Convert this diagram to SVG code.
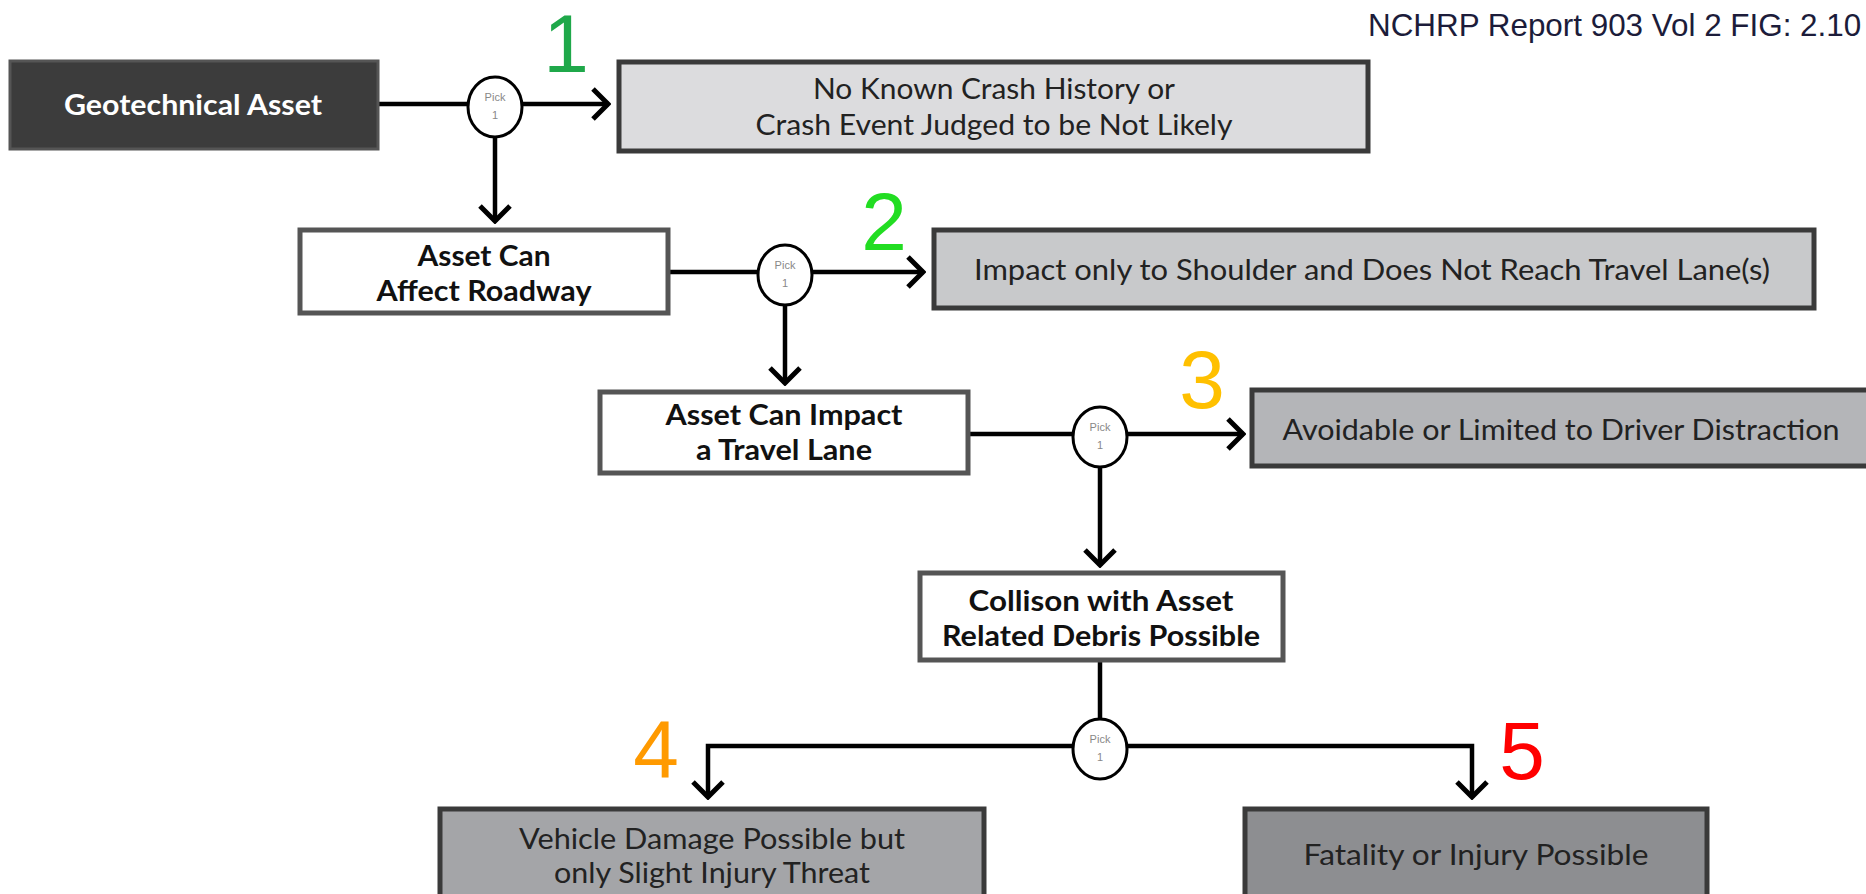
<svg xmlns="http://www.w3.org/2000/svg" width="1866" height="894" viewBox="0 0 1866 894">
<style>
.bg{fill:#fff}
.dark{fill:#3c3c3c;stroke:#555;stroke-width:3}
.white{fill:#fff;stroke:#555;stroke-width:5}
.out{stroke:#3a3a3a;stroke-width:5}
.t{font-family:Lato,"Liberation Sans",sans-serif;font-size:29px;fill:#222;text-anchor:middle}
.b{font-family:Lato,"Liberation Sans",sans-serif;font-size:29px;font-weight:bold;fill:#111;text-anchor:middle}
.num{font-family:"Liberation Sans",Arial,sans-serif;font-size:82px;text-anchor:middle}
.pick{fill:#fff;stroke:#000;stroke-width:3}
.pt{font-family:"Liberation Sans Narrow","Liberation Sans",sans-serif;font-size:11px;fill:#888;text-anchor:middle}
.c{fill:none;stroke:#000;stroke-width:4.5}
</style>
<defs>
<marker id="arr" viewBox="0 0 20 34" refX="18" refY="17" markerWidth="20" markerHeight="34" markerUnits="userSpaceOnUse" orient="auto">
<path d="M2,2 L17,17 L2,32" fill="none" stroke="#000" stroke-width="5"/>
</marker>
</defs>
<rect class="bg" x="0" y="0" width="1866" height="894"/>
<text x="1368" y="36" font-family="'Liberation Sans',Arial,sans-serif" font-size="31.4" fill="#1c1c3a">NCHRP Report 903 Vol 2 FIG: 2.10</text>

<g id="connectors">
<path class="c" d="M378,104 H468"/>
<path class="c" d="M522,104 H609" marker-end="url(#arr)"/>
<path class="c" d="M495,136 V222" marker-end="url(#arr)"/>
<path class="c" d="M668,272 H758"/>
<path class="c" d="M812,272 H924" marker-end="url(#arr)"/>
<path class="c" d="M785,304 V384" marker-end="url(#arr)"/>
<path class="c" d="M968,434 H1073"/>
<path class="c" d="M1127,434 H1244" marker-end="url(#arr)"/>
<path class="c" d="M1100,468 V566" marker-end="url(#arr)"/>
<path class="c" d="M1100,660 V719"/>
<path class="c" d="M1073,746 H708 V798" marker-end="url(#arr)"/>
<path class="c" d="M1127,746 H1472 V798" marker-end="url(#arr)"/>
</g>

<g id="geotechnical-asset">
<rect class="dark" x="10" y="61" width="368" height="88"/>
<text class="b" x="193" y="115" textLength="258" lengthAdjust="spacingAndGlyphs" style="fill:#fff">Geotechnical Asset</text>
</g>

<g id="pick-1">
<ellipse class="pick" cx="495" cy="107" rx="27" ry="30"/>
<text class="pt" x="495" y="101">Pick</text>
<text class="pt" x="495" y="119">1</text>
</g>

<g id="outcome-1">
<rect class="out" x="619" y="62" width="749" height="89" fill="#dcdcde"/>
<text class="t" x="994" y="99" textLength="362" lengthAdjust="spacingAndGlyphs">No Known Crash History or</text>
<text class="t" x="994" y="135" textLength="477" lengthAdjust="spacingAndGlyphs">Crash Event Judged to be Not Likely</text>
</g>
<text id="label-1" class="num" x="566" y="72" fill="#1fa84a">1</text>

<g id="affect-roadway">
<rect class="white" x="300" y="230" width="368" height="83"/>
<text class="b" x="484" y="266" textLength="133" lengthAdjust="spacingAndGlyphs">Asset Can</text>
<text class="b" x="484" y="301" textLength="215" lengthAdjust="spacingAndGlyphs">Affect Roadway</text>
</g>

<g id="pick-2">
<ellipse class="pick" cx="785" cy="275" rx="27" ry="30"/>
<text class="pt" x="785" y="269">Pick</text>
<text class="pt" x="785" y="287">1</text>
</g>

<g id="outcome-2">
<rect class="out" x="934" y="230" width="880" height="78" fill="#c8c9cb"/>
<text class="t" x="1372" y="280" textLength="796" lengthAdjust="spacingAndGlyphs">Impact only to Shoulder and Does Not Reach Travel Lane(s)</text>
</g>
<text id="label-2" class="num" x="884" y="250" fill="#22dd22">2</text>

<g id="impact-travel-lane">
<rect class="white" x="600" y="392" width="368" height="81"/>
<text class="b" x="784" y="425" textLength="237" lengthAdjust="spacingAndGlyphs">Asset Can Impact</text>
<text class="b" x="784" y="460" textLength="176" lengthAdjust="spacingAndGlyphs">a Travel Lane</text>
</g>

<g id="pick-3">
<ellipse class="pick" cx="1100" cy="437" rx="27" ry="30"/>
<text class="pt" x="1100" y="431">Pick</text>
<text class="pt" x="1100" y="449">1</text>
</g>

<g id="outcome-3">
<rect class="out" x="1252" y="390" width="630" height="76" fill="#b4b5b8"/>
<text class="t" x="1561" y="440" textLength="557" lengthAdjust="spacingAndGlyphs">Avoidable or Limited to Driver Distraction</text>
</g>
<text id="label-3" class="num" x="1202" y="408" fill="#ffc000">3</text>

<g id="collision">
<rect class="white" x="920" y="573" width="363" height="87"/>
<text class="b" x="1101" y="611" textLength="265" lengthAdjust="spacingAndGlyphs">Collison with Asset</text>
<text class="b" x="1101" y="646" textLength="318" lengthAdjust="spacingAndGlyphs">Related Debris Possible</text>
</g>

<g id="pick-4">
<ellipse class="pick" cx="1100" cy="749" rx="27" ry="30"/>
<text class="pt" x="1100" y="743">Pick</text>
<text class="pt" x="1100" y="761">1</text>
</g>

<g id="outcome-4">
<rect class="out" x="440" y="809" width="544" height="100" fill="#a4a5a8"/>
<text class="t" x="712" y="849" textLength="386" lengthAdjust="spacingAndGlyphs">Vehicle Damage Possible but</text>
<text class="t" x="712" y="883" textLength="316" lengthAdjust="spacingAndGlyphs">only Slight Injury Threat</text>
</g>
<text id="label-4" class="num" x="656" y="778" fill="#ff9a00">4</text>

<g id="outcome-5">
<rect class="out" x="1245" y="809" width="462" height="100" fill="#8d8e91"/>
<text class="t" x="1476" y="865" textLength="345" lengthAdjust="spacingAndGlyphs">Fatality or Injury Possible</text>
</g>
<text id="label-5" class="num" x="1522" y="779" fill="#ff0000">5</text>
</svg>
